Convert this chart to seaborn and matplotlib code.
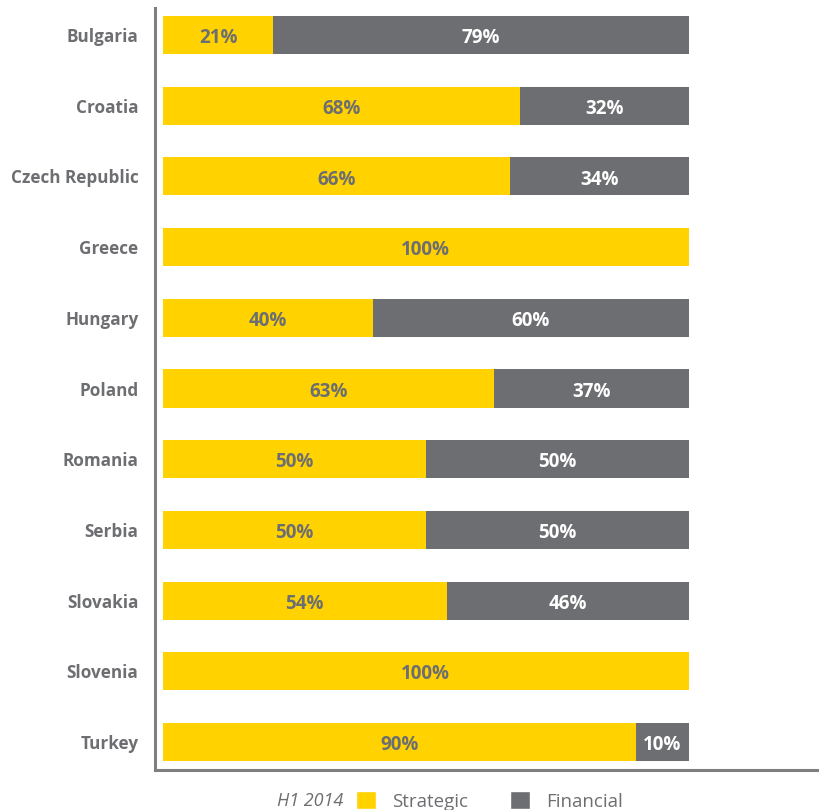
import matplotlib
matplotlib.use("Agg")
import matplotlib.pyplot as plt
import seaborn as sns
import pandas as pd
from matplotlib.patches import Patch

countries = ["Bulgaria", "Croatia", "Czech Republic", "Greece", "Hungary", "Poland",
             "Romania", "Serbia", "Slovakia", "Slovenia", "Turkey"]
strategic = [21, 68, 66, 100, 40, 63, 50, 50, 54, 100, 90]
financial = [79, 32, 34, 0, 60, 37, 50, 50, 46, 0, 10]

YELLOW = "#FFD200"
GREY = "#6D6E71"
SPINE = "#7F7F7F"

sns.set_theme(style="white")
plt.rcParams['font.family'] = ['Open Sans', 'DejaVu Sans']

df = pd.DataFrame({"country": countries, "strategic": strategic, "financial": financial})
df["total"] = df["strategic"] + df["financial"]

fig = plt.figure(figsize=(8.2, 8.1), dpi=100)
ax = fig.add_axes([155/820, 40/810, 665/820, 762/810])

sns.barplot(data=df, y="country", x="total", orient="h", color=GREY, width=0.54,
            saturation=1, ax=ax, linewidth=0)
sns.barplot(data=df, y="country", x="strategic", orient="h", color=YELLOW, width=0.54,
            saturation=1, ax=ax, linewidth=0)

fs = 13.5
dy = 0.045
for i, (s, f) in enumerate(zip(strategic, financial)):
    if s > 0:
        ax.text(s / 2, i + dy, f"{s}%", ha="center", va="center", color=GREY,
                fontsize=fs, fontweight="bold")
    if f > 0:
        ax.text(s + f / 2, i + dy, f"{f}%", ha="center", va="center", color="white",
                fontsize=fs, fontweight="bold")

ax.set_xlim(-1.5, 125)
ax.set_ylim(10.396, -0.382)
ax.set_xlabel("")
ax.set_ylabel("")
ax.set_xticks([])
ax.tick_params(axis="y", length=0, pad=12)
for lab in ax.get_yticklabels():
    lab.set_color(GREY)
    lab.set_fontweight("bold")
    lab.set_fontsize(12.3)

for side in ["top", "right"]:
    ax.spines[side].set_visible(False)
for side in ["left", "bottom"]:
    ax.spines[side].set_color(SPINE)
    ax.spines[side].set_linewidth(2.2)

fig.text(343/820, 1 - 801/810, "H1 2014", ha="right", va="center", color=GREY,
         fontsize=13, style="italic")
handles = [Patch(facecolor=YELLOW, label="Strategic"), Patch(facecolor=GREY, label="Financial")]
leg = fig.legend(handles=handles, loc="center left", bbox_to_anchor=(339/820, 1 - 801/810),
                 ncol=2, frameon=False, handlelength=1.1, handleheight=1.1,
                 handletextpad=0.85, columnspacing=2.2, fontsize=13.5)
for t in leg.get_texts():
    t.set_color(GREY)

fig.savefig("out.png", dpi=100)
